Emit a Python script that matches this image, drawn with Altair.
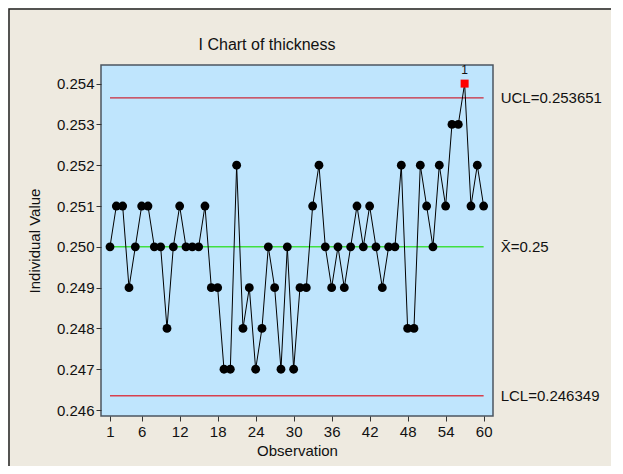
import altair as alt
import pandas as pd

observations = list(range(1, 61))
thickness = [
    0.250, 0.251, 0.251, 0.249, 0.250, 0.251, 0.251, 0.250, 0.250, 0.248,
    0.250, 0.251, 0.250, 0.250, 0.250, 0.251, 0.249, 0.249, 0.247, 0.247,
    0.252, 0.248, 0.249, 0.247, 0.248, 0.250, 0.249, 0.247, 0.250, 0.247,
    0.249, 0.249, 0.251, 0.252, 0.250, 0.249, 0.250, 0.249, 0.250, 0.251,
    0.250, 0.251, 0.250, 0.249, 0.250, 0.250, 0.252, 0.248, 0.248, 0.252,
    0.251, 0.250, 0.252, 0.251, 0.253, 0.253, 0.254, 0.251, 0.252, 0.251,
]
ucl = 0.253651
center = 0.25
lcl = 0.246349
x_ticks = [1, 6, 12, 18, 24, 30, 36, 42, 48, 54, 60]
y_ticks = [0.246, 0.247, 0.248, 0.249, 0.250, 0.251, 0.252, 0.253, 0.254]
limit_labels = ["UCL=0.253651", "X\u0304=0.25", "LCL=0.246349"]
title_text = "I Chart of thickness"

FONT = "Liberation Sans"
FS = 15
W, H = 392, 351
PAD = {"left": 93, "top": 57, "right": 118, "bottom": 50}

df = pd.DataFrame({"obs": observations, "val": thickness})
df["out"] = df["val"] > ucl

lim = pd.DataFrame({
    "val": [ucl, center, lcl],
    "obs": [1, 1, 1],
    "obs2": [60, 60, 60],
    "label": limit_labels,
    "kind": ["UCL", "CL", "LCL"],
})
one = pd.DataFrame({"t": [title_text]})

xscale = alt.Scale(domain=[-0.42, 61.48], nice=False, zero=False)
yscale = alt.Scale(domain=[0.245854, 0.254456], nice=False, zero=False)

xaxis = alt.Axis(values=x_ticks, title="Observation", grid=False,
                 domain=False, tickSize=5, labelPadding=3,
                 titlePadding=4, labelFontSize=FS, titleFontSize=FS,
                 titleFontWeight="normal", labelColor="#111",
                 titleColor="#111", tickColor="#333", labelOverlap=False,
                 labelFlush=False)
yaxis = alt.Axis(values=y_ticks, format=".3f", title="Individual Value",
                 grid=False, domain=False, tickSize=5, labelPadding=2,
                 titlePadding=14, labelFontSize=FS, titleFontSize=FS,
                 titleFontWeight="normal", labelColor="#111",
                 titleColor="#111", tickColor="#333", labelOverlap=False)


def X(field="obs"):
    return alt.X(f"{field}:Q", scale=xscale, axis=xaxis)


def Y():
    return alt.Y("val:Q", scale=yscale, axis=yaxis)


base = alt.Chart(df)

limits = alt.Chart(lim).mark_rule(strokeWidth=1.4).encode(
    x=X(), x2="obs2:Q", y=Y(),
    color=alt.Color("kind:N", scale=alt.Scale(domain=["UCL", "CL", "LCL"],
                                              range=["#cc2a3a", "#40e040", "#d8404e"]),
                    legend=None),
)

limit_text = alt.Chart(lim).mark_text(align="left", baseline="middle", dx=17,
                                      fontSize=FS, font=FONT, color="#111").encode(
    x=X("obs2"), y=Y(), text="label:N",
)

line = base.mark_line(color="black", strokeWidth=1).encode(x=X(), y=Y())

pts = base.transform_filter("!datum.out").mark_point(
    shape="circle", filled=True, size=78, color="black", opacity=1
).encode(x=X(), y=Y())

out_pts = base.transform_filter("datum.out").mark_point(
    shape="square", filled=True, size=64, color="#ff0000", opacity=1
).encode(x=X(), y=Y())

out_txt = base.transform_filter("datum.out").mark_text(
    dy=-14, fontSize=12, font=FONT, color="#111"
).encode(x=X(), y=Y(), text=alt.value("1"))

title_mark = alt.Chart(one).mark_text(
    fontSize=FS + 1, font=FONT, color="#111", align="center", baseline="middle"
).encode(x=alt.value(166), y=alt.value(-20), text="t:N")

frame = alt.Chart(one).mark_rect(fill="transparent", stroke="#222", strokeWidth=1.5).encode(
    x=alt.value(-92), x2=alt.value(W + PAD["right"] + 40),
    y=alt.value(-56), y2=alt.value(H + PAD["bottom"] + 40))

chart = alt.layer(
    limits, frame, title_mark, line, pts, out_pts, out_txt, limit_text
).properties(
    width=W, height=H,
    autosize=alt.AutoSizeParams(type="none"),
    padding=PAD,
    background="#eeeae0",
).configure_view(
    fill="#bfe5fd", stroke="#4c5660", strokeWidth=1.5
).configure_axis(
    labelFont=FONT, titleFont=FONT
)

chart.save("out.html", embed_options={"renderer": "svg", "actions": False})
